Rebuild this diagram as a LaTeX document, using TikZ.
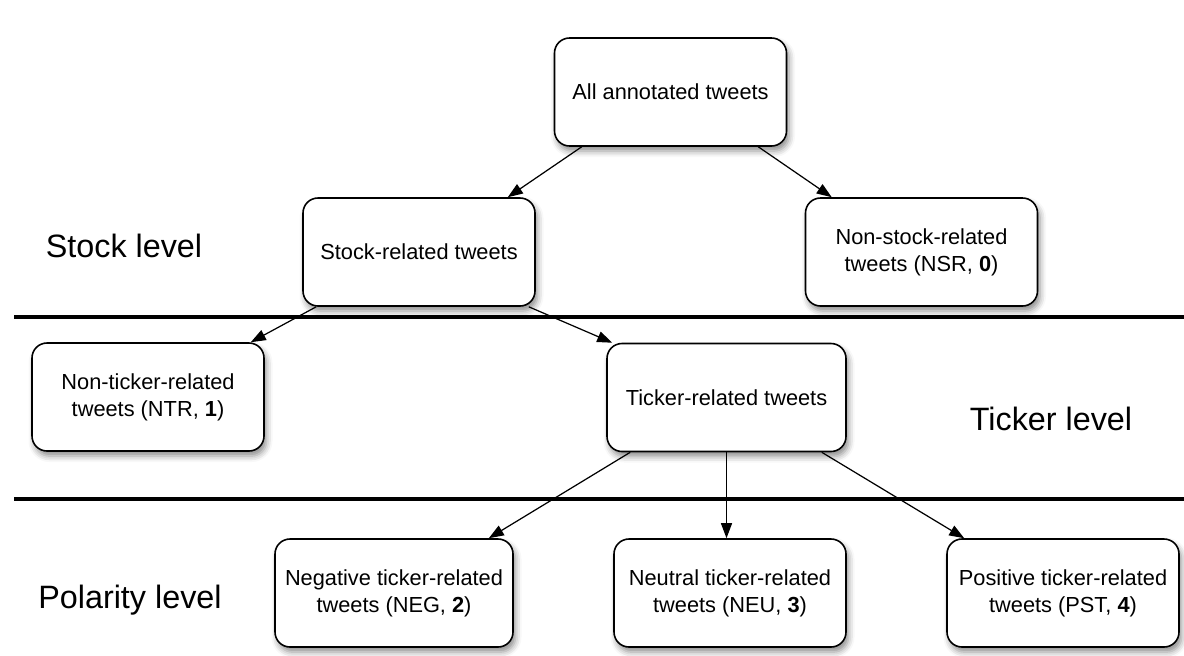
\documentclass[tikz,border=0pt]{standalone}
\usepackage{fontspec}
\setmainfont{Liberation Sans}
\usetikzlibrary{arrows.meta, shadows.blur}

\begin{document}
\begin{tikzpicture}[
  tweetbox/.style={draw, rectangle, rounded corners=0.3cm, line width=0.9pt, fill=white,
    minimum width=4.64cm, minimum height=2.16cm, align=center,
    font=\fontsize{12.4}{15.3}\selectfont,
    blur shadow={shadow xshift=0.05cm, shadow yshift=-0.1cm, shadow blur radius=0.12cm, shadow opacity=45}},
  levellabel/.style={font=\fontsize{18.4}{22}\selectfont, anchor=base},
  divider/.style={line width=2.3pt},
  link/.style={-{Triangle[length=0.3cm,width=0.22cm]}, line width=0.7pt}
]
\useasboundingbox (0,0) rectangle (23.68,-13.1);

% levels
\node[levellabel] (stocklevel) at (2.48,-5.14) {Stock level};
\node[levellabel] (tickerlevel) at (21.02,-8.6) {Ticker level};
\node[levellabel] (polaritylevel) at (2.6,-12.16) {Polarity level};
\draw[divider] (0.28,-6.34) -- (23.68,-6.34);
\draw[divider] (0.28,-9.98) -- (23.68,-9.98);

% tweets
\node[tweetbox] (all) at (13.41,-1.84) {All annotated tweets};
\node[tweetbox] (stock) at (8.38,-5.04) {Stock-related tweets};
\node[tweetbox] (nonstock) at (18.43,-5.04) {Non-stock-related\\tweets (NSR, \textbf{0})};
\node[tweetbox] (nonticker) at (2.96,-7.94) {Non-ticker-related\\tweets (NTR, \textbf{1})};
\node[tweetbox, minimum width=4.78cm] (ticker) at (14.53,-7.95) {Ticker-related tweets};
\node[tweetbox, minimum width=4.76cm] (neg) at (7.88,-11.86) {Negative ticker-related\\tweets (NEG, \textbf{2})};
\node[tweetbox] (neu) at (14.6,-11.86) {Neutral ticker-related\\tweets (NEU, \textbf{3})};
\node[tweetbox] (pst) at (21.26,-11.86) {Positive ticker-related\\tweets (PST, \textbf{4})};

\draw[link] ([xshift=0.56cm]all.south west) -- ([xshift=-0.56cm]stock.north east);
\draw[link] ([xshift=-0.58cm]all.south east) -- ([xshift=0.54cm]nonstock.north west);
\draw[link] ([xshift=0.28cm]stock.south west) -- ([xshift=-0.28cm]nonticker.north east);
\draw[link] ([xshift=-0.14cm]stock.south east) -- ([xshift=0.12cm]ticker.north west);
\draw[link] ([xshift=0.48cm]ticker.south west) -- ([xshift=-0.5cm]neg.north east);
\draw[link] (ticker.south) -- (ticker.south |- neu.north);
\draw[link] ([xshift=-0.5cm]ticker.south east) -- ([xshift=0.36cm]pst.north west);
\end{tikzpicture}
\end{document}
